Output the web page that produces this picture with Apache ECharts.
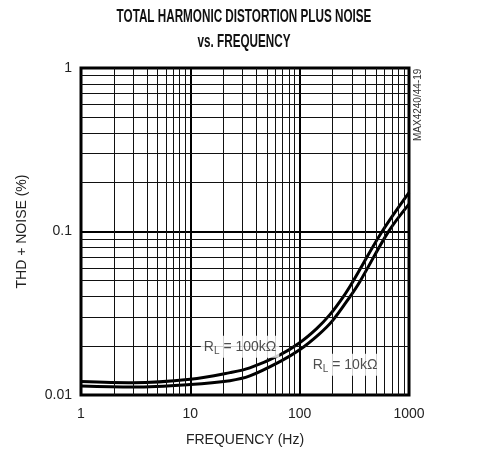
<!DOCTYPE html>
<html>
<head>
<meta charset="utf-8">
<script src="https://cdn.jsdelivr.net/npm/echarts@6/dist/echarts.min.js"></script>
<style>
html,body{margin:0;padding:0;background:#fff;}
#chart{width:483px;height:454px;}
</style>
</head>
<body>
<div id="chart"></div>
<script>
// ---- data ----
var freq100k = [1, 3, 10, 23, 35, 66, 100, 143, 189, 251, 307, 562, 1000];
var thd100k  = [0.0121, 0.0119, 0.0125, 0.0137, 0.01465, 0.0176, 0.0209, 0.0255, 0.031, 0.040, 0.0495, 0.099, 0.173];
var freq10k  = [1, 3, 10, 23, 35, 66, 100, 150, 200, 289, 356, 647, 1000];
var thd10k   = [0.01136, 0.0112, 0.0116, 0.01224, 0.01308, 0.016, 0.0189, 0.0235, 0.0285, 0.040, 0.0495, 0.0995, 0.147];
var minorX = [2,3,4,5,6,7,8,9,20,30,40,50,60,70,80,90,200,300,400,500,600,700,800,900];
var minorY = [0.02,0.03,0.04,0.05,0.06,0.07,0.08,0.09,0.2,0.3,0.4,0.5,0.6,0.7,0.8,0.9];
var label100kPos = [28.5, 0.0197];
var label10kPos = [260, 0.0153];
var titleLines = ['TOTAL HARMONIC DISTORTION PLUS NOISE', 'vs. FREQUENCY'];

var FONT = "'Liberation Sans Narrow','Arial Narrow','Liberation Sans',Arial,sans-serif";
var chart = echarts.init(document.getElementById('chart'), null, {renderer:'canvas'});

function pair(xs, ys){ return xs.map(function(x,i){ return [x, ys[i]]; }); }

var minorLines = [];
minorX.forEach(function(v){ minorLines.push({xAxis: v}); });
minorY.forEach(function(v){ minorLines.push({yAxis: v}); });

var rich = {
  r: {fontFamily: FONT, fontSize: 14, color: '#222'},
  s: {fontFamily: FONT, fontSize: 10, color: '#222', verticalAlign: 'bottom', padding: [8,0,0,0]}
};

var option = {
  animation: false,
  backgroundColor: '#fff',
  grid: {left: 81, right: 74, top: 68, bottom: 59, show: true, borderColor: '#000', borderWidth: 3, backgroundColor: 'transparent', z: 5},
  xAxis: {
    type: 'log', logBase: 10, min: 1, max: 1000,
    name: 'FREQUENCY (Hz)', nameLocation: 'middle', nameGap: 38,
    nameTextStyle: {fontFamily: FONT, fontSize: 14, color: '#222'},
    axisLine: {show: false}, axisTick: {show: false},
    axisLabel: {fontFamily: FONT, fontSize: 14, color: '#222', margin: 12,
      formatter: function(v){ return String(Math.round(v)); }},
    splitLine: {show: true, lineStyle: {color: '#000', width: 2}}
  },
  yAxis: {
    type: 'log', logBase: 10, min: 0.01, max: 1,
    name: 'THD + NOISE (%)', nameLocation: 'middle', nameGap: 52,
    nameTextStyle: {fontFamily: FONT, fontSize: 14, color: '#222'},
    axisLine: {show: false}, axisTick: {show: false},
    axisLabel: {fontFamily: FONT, fontSize: 14, color: '#222', margin: 9,
      formatter: function(v){ return v >= 1 ? '1' : (v >= 0.1 ? '0.1' : '0.01'); }},
    splitLine: {show: true, lineStyle: {color: '#000', width: 2}}
  },
  series: [
    {
      type: 'line', data: [], silent: true,
      markLine: {silent: true, symbol: 'none', label: {show: false},
        lineStyle: {color: '#111', width: 1, type: 'solid'}, data: minorLines, animation: false}
    },
    {
      name: 'RL = 100k', type: 'line', data: pair(freq100k, thd100k), smooth: 0.35,
      showSymbol: false, lineStyle: {color: '#000', width: 3}, z: 4
    },
    {
      name: 'RL = 10k', type: 'line', data: pair(freq10k, thd10k), smooth: 0.35,
      showSymbol: false, lineStyle: {color: '#000', width: 3}, z: 4
    },
    {
      type: 'scatter', symbolSize: 0, z: 6, silent: true,
      data: [
        {value: label100kPos, label: {formatter: '{r|R}{s|L}{r| = 100kΩ}'}},
        {value: label10kPos, label: {formatter: '{r|R}{s|L}{r| = 10kΩ}'}}
      ],
      label: {show: true, position: 'inside', backgroundColor: '#fff', padding: [2,3,2,3], rich: rich}
    }
  ],
  graphic: [
    {type: 'text', x: 244, y: 17, scaleX: 0.65,
     style: {text: titleLines[0], fontFamily: FONT, fontWeight: 'bold', fontSize: 18, fill: '#111', align: 'center', verticalAlign: 'middle'}},
    {type: 'text', x: 244, y: 42, scaleX: 0.65,
     style: {text: titleLines[1], fontFamily: FONT, fontWeight: 'bold', fontSize: 18, fill: '#111', align: 'center', verticalAlign: 'middle'}},
    {type: 'text', x: 413, y: 141, rotation: Math.PI/2,
     style: {text: 'MAX4240/44-19', fontFamily: FONT, fontSize: 10, fill: '#333', align: 'left', verticalAlign: 'top'}}
  ]
};
chart.setOption(option);
</script>
</body>
</html>
